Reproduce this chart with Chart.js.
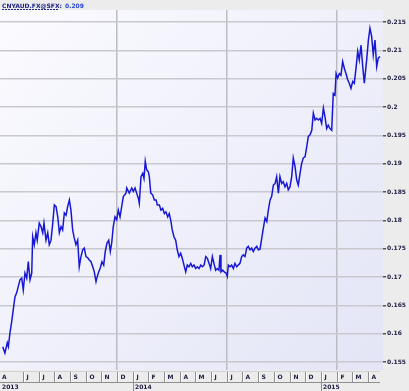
<!DOCTYPE html>
<html>
<head>
<meta charset="utf-8">
<script src="https://cdn.jsdelivr.net/npm/chart.js@4.4.1/dist/chart.umd.min.js"></script>
<style>
  html, body { margin: 0; padding: 0; background: #ececec; }
  #wrap { width: 409px; height: 391px; }
</style>
</head>
<body>
<div id="wrap"><canvas id="fxChart"></canvas></div>
<script>
const symbol = 'CNYAUD.FX@SFX:';
const lastQuote = '0.209';

// x = months since 1 April 2013
const months = [
  0.71, 0.85, 1.00, 1.07, 1.17, 1.28, 1.38, 1.49, 1.60, 1.70, 1.81, 1.92, 2.02, 2.13, 2.24, 2.34, 2.45, 2.56, 2.62, 2.72,
  2.83, 2.91, 3.04, 3.15, 3.26, 3.34, 3.47, 3.58, 3.68, 3.79, 3.90, 4.00, 4.11, 4.22, 4.32, 4.43, 4.53, 4.64, 4.75, 4.85,
  4.96, 5.06, 5.17, 5.27, 5.38, 5.49, 5.59, 5.70, 5.81, 5.91, 6.02, 6.13, 6.23, 6.34, 6.45, 6.55, 6.66, 6.74, 6.83, 6.93,
  7.04, 7.15, 7.25, 7.36, 7.47, 7.57, 7.66, 7.76, 7.87, 7.98, 8.08,
  8.19, 8.40, 8.57, 8.62, 8.78, 8.94, 9.04, 9.15, 9.25, 9.36, 9.42, 9.53, 9.64, 9.72, 9.80, 9.89, 9.99, 10.06, 10.15, 10.27,
  10.38, 10.49, 10.57, 10.70, 10.80, 10.91, 11.02, 11.12, 11.23, 11.33, 11.44, 11.52, 11.63, 11.74, 11.84, 11.95, 12.06, 12.16, 12.27, 12.38,
  12.48, 12.59, 12.70, 12.80, 12.91, 13.02, 13.12, 13.23, 13.34, 13.44, 13.55, 13.66, 13.76, 13.87, 13.97, 14.08, 14.18, 14.29, 14.40, 14.50,
  14.57, 14.63, 14.74, 14.84, 14.95, 15.03, 15.10, 15.21, 15.31, 15.42, 15.52, 15.63, 15.73, 15.84, 15.95, 16.05, 16.16, 16.27, 16.37, 16.48,
  16.59, 16.69, 16.80, 16.91, 17.01, 17.12, 17.21,
  17.33, 17.44, 17.55, 17.65, 17.76, 17.86, 17.97, 18.08, 18.18, 18.29, 18.39, 18.50, 18.60, 18.71, 18.82, 18.92, 19.03, 19.14, 19.24, 19.35,
  19.46, 19.56, 19.67, 19.78, 19.88, 19.99, 20.10, 20.20, 20.31, 20.42, 20.52, 20.63, 20.73, 20.84, 20.95, 21.05, 21.16, 21.26, 21.37, 21.47,
  21.58, 21.69, 21.79, 21.90, 21.97, 22.07, 22.18, 22.28, 22.39, 22.50, 22.60, 22.71, 22.81, 22.92, 23.03, 23.13, 23.24, 23.35, 23.45, 23.56,
  23.67, 23.77, 23.92, 24.03, 24.13, 24.24, 24.34, 24.45, 24.56, 24.66, 24.77
];
const rates = [
  .1577, .1566, .1584, .1577, .1601, .1621, .1642, .1665, .1672, .1683, .1695, .1698, .1677, .1707, .1698, .1727, .1695, .1707, .1771, .1757,
  .1778, .1765, .1795, .1789, .1778, .1795, .1765, .1778, .1757, .1765, .1795, .1827, .1824, .1806, .1778, .1789, .1783, .1813, .1809, .1824,
  .1836, .1818, .1783, .1769, .1757, .1765, .1718, .1736, .1748, .1751, .1736, .1734, .1730, .1727, .1718, .1709, .1692, .1701, .1709, .1716,
  .1727, .1721, .1745, .1760, .1765, .1745, .1760, .1789, .1806, .1801, .1818,
  .1806, .1842, .1848, .1857, .1848, .1857, .1851, .1857, .1848, .1839, .1830, .1877, .1883, .1874, .1904, .1889, .1886, .1877, .1848, .1845,
  .1836, .1836, .1827, .1827, .1818, .1821, .1812, .1815, .1806, .1812, .1798, .1783, .1771, .1765, .1748, .1736, .1742, .1733, .1721, .1709,
  .1721, .1718, .1724, .1718, .1721, .1715, .1718, .1715, .1721, .1718, .1721, .1736, .1733, .1724, .1715, .1736, .1724, .1712, .1715, .1712,
  .1739, .1709, .1712, .1709, .1707, .1701, .1721, .1718, .1721, .1715, .1724, .1718, .1721, .1724, .1736, .1739, .1736, .1751, .1754, .1748,
  .1751, .1745, .1751, .1754, .1748, .1749, .1765,
  .1786, .1804, .1798, .1818, .1836, .1842, .1862, .1865, .1877, .1848, .1877, .1865, .1868, .1859, .1865, .1854, .1859, .1877, .1910, .1895,
  .1871, .1862, .1883, .1901, .1910, .1912, .1930, .1948, .1951, .1959, .1989, .1977, .1980, .1977, .1980, .1971, .1998, .1983, .1962, .1968,
  .1962, .1959, .2024, .2021, .2059, .2051, .2059, .2056, .2080, .2068, .2059, .2048, .2042, .2033, .2045, .2042, .2068, .2098, .2083, .2109,
  .2071, .2042, .2083, .2118, .2139, .2124, .2092, .2118, .2071, .2086, .2089
];

const yTicks = [0.155, 0.16, 0.165, 0.17, 0.175, 0.18, 0.185, 0.19, 0.195, 0.2, 0.205, 0.21, 0.215];
const monthLetters = ['A', 'M', 'J', 'J', 'A', 'S', 'O', 'N', 'D', 'J', 'F', 'M']; // from April
const monthTicks = [2, 3, 4, 5, 6, 7, 8, 9, 10, 11, 12, 13, 14, 15, 16, 17, 18, 19, 20, 21, 22, 23, 24];
const gridMonths = [8, 15, 22];
const years = ['2013', '2014', '2015'];
const yearStarts = [null, 9, 21];

const xMin = 0.536, xMax = 24.962;
const yMin = 0.15359, yMax = 0.21711;
const font = 'DejaVu Sans';

const frame = {
  id: 'frame',
  beforeDraw(chart) {
    const { ctx, chartArea: a, width, height } = chart;
    ctx.save();
    ctx.fillStyle = '#ececec';
    ctx.fillRect(0, 0, width, height);
    const g = ctx.createLinearGradient(a.left, a.top, a.right, a.bottom);
    g.addColorStop(0, '#fbfbff');
    g.addColorStop(1, '#e3e5f6');
    ctx.fillStyle = g;
    ctx.fillRect(a.left, a.top, a.right - a.left, a.bottom - a.top);
    ctx.restore();
  },
  afterDraw(chart) {
    const { ctx, chartArea: a } = chart;
    const x = chart.scales.x;
    ctx.save();

    // title
    ctx.font = 'bold 6px ' + font;
    ctx.textBaseline = 'alphabetic';
    ctx.fillStyle = '#1c2480';
    ctx.fillText(symbol, 2, 7.5);
    const w = ctx.measureText(symbol).width;
    ctx.strokeStyle = '#1c2480';
    ctx.lineWidth = 1;
    ctx.setLineDash([2, 1]);
    ctx.beginPath(); ctx.moveTo(2, 9.5); ctx.lineTo(2 + w - 3, 9.5); ctx.stroke();
    ctx.setLineDash([]);
    ctx.fillStyle = '#2846d0';
    ctx.fillText(lastQuote, 2 + w + 3, 7.5);

    // month row
    const rowTop = a.bottom, rowBot = a.bottom + 12;
    ctx.strokeStyle = '#d2d2d2';
    ctx.beginPath(); ctx.moveTo(a.left, rowTop + 1.5); ctx.lineTo(a.right - 3, rowTop + 1.5); ctx.stroke();
    ctx.strokeStyle = '#8e8e8e';
    ctx.beginPath(); ctx.moveTo(a.left, rowBot + 0.5); ctx.lineTo(a.right - 3, rowBot + 0.5); ctx.stroke();

    ctx.font = 'bold 6px ' + font;
    ctx.textBaseline = 'middle';
    ctx.fillStyle = '#1a1a40';
    ctx.fillText(monthLetters[0], a.left + 2, rowTop + 7);
    monthTicks.forEach(m => {
      const px = Math.round(x.getPixelForValue(m)) + 0.5;
      ctx.strokeStyle = '#8e8e8e';
      ctx.beginPath(); ctx.moveTo(px, rowTop + 2); ctx.lineTo(px, rowBot); ctx.stroke();
      ctx.strokeStyle = '#ffffff';
      ctx.beginPath(); ctx.moveTo(px + 1, rowTop + 2); ctx.lineTo(px + 1, rowBot); ctx.stroke();
      ctx.fillStyle = '#1a1a40';
      ctx.fillText(monthLetters[m % 12], px + 3, rowTop + 7);
    });

    // year row
    years.forEach((yr, i) => {
      let px = a.left + 0.5;
      if (yearStarts[i] !== null) {
        px = Math.round(x.getPixelForValue(yearStarts[i])) + 0.5;
        ctx.strokeStyle = '#8e8e8e';
        ctx.beginPath(); ctx.moveTo(px, rowBot + 1); ctx.lineTo(px, rowBot + 9); ctx.stroke();
      }
      ctx.fillStyle = '#1a1a40';
      ctx.fillText(yr, px + 1.5, rowBot + 5);
    });
    ctx.restore();
  }
};

new Chart(document.getElementById('fxChart'), {
  type: 'line',
  data: {
    datasets: [{
      data: months.map((m, i) => ({ x: m, y: rates[i] })),
      borderColor: '#1818d4',
      borderWidth: 1.5,
      pointRadius: 0,
      tension: 0,
      fill: false
    }]
  },
  options: {
    responsive: true,
    maintainAspectRatio: false,
    animation: false,
    layout: { padding: { top: 10, left: 0, right: 0, bottom: 0 } },
    plugins: { legend: { display: false }, tooltip: { enabled: false } },
    scales: {
      x: {
        type: 'linear',
        min: xMin,
        max: xMax,
        afterBuildTicks: s => { s.ticks = gridMonths.map(v => ({ value: v })); },
        afterFit: s => { s.height = 21; },
        grid: { color: '#bcbcc4', lineWidth: 1.5, drawTicks: false },
        border: { display: false },
        ticks: { display: false }
      },
      y: {
        position: 'right',
        min: yMin,
        max: yMax,
        afterBuildTicks: s => { s.ticks = yTicks.map(v => ({ value: v })); },
        afterFit: s => { s.width = 26; },
        grid: { color: '#c8c8ce', lineWidth: 1.5, tickLength: 3, tickColor: '#555' },
        border: { display: false },
        ticks: {
          padding: 1,
          color: '#1a1a40',
          font: { family: font, size: 6, weight: 'bold' },
          callback: v => String(+v.toFixed(3))
        }
      }
    }
  },
  plugins: [frame]
});
</script>
</body>
</html>
